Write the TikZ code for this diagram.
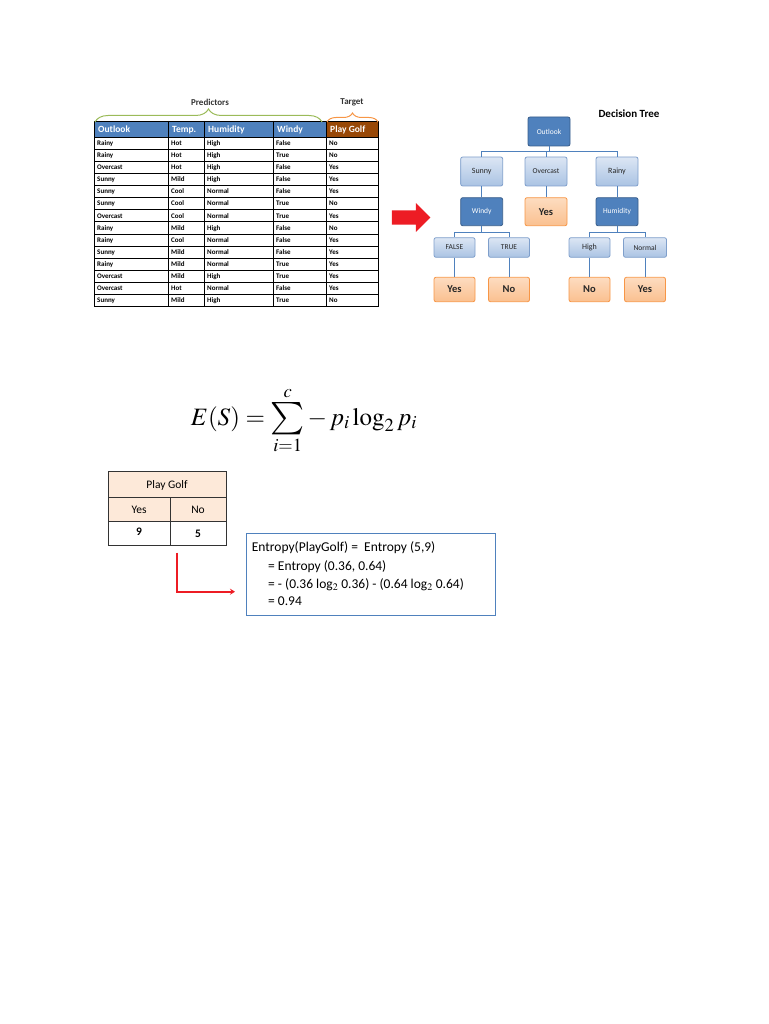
\documentclass[tikz,border=0pt]{standalone}
\usepackage{mathptmx}
\usepackage{exscale}
\usepackage[no-math]{fontspec}
\setmainfont{Carlito}
\usetikzlibrary{shapes.arrows,decorations.pathreplacing,arrows.meta}

\DeclareSymbolFont{cmbig}{OMX}{cmex}{m}{n}
\DeclareMathSymbol{\golfsum}{\mathop}{cmbig}{"50}

\definecolor{hdrblue}{HTML}{4F81BD}
\definecolor{hdrbrown}{HTML}{984807}
\definecolor{darkedge}{HTML}{385D8A}
\definecolor{lightedge}{HTML}{7F9FCB}
\definecolor{lighttop}{HTML}{DCE6F4}
\definecolor{lightbot}{HTML}{AAC3E3}
\definecolor{orangeedge}{HTML}{F79646}
\definecolor{orangetop}{HTML}{FDDCC0}
\definecolor{orangebot}{HTML}{FAC090}
\definecolor{bracegreen}{HTML}{9BBB59}
\definecolor{peach}{HTML}{FDE9D9}
\definecolor{arrowred}{HTML}{ED1C24}

\tikzset{
  cell/.style={anchor=base west, inner sep=0pt, font=\fontsize{7}{8}\selectfont\bfseries},
  headtxt/.style={anchor=base west, inner sep=0pt, text=white, font=\fontsize{9.5}{11}\selectfont\bfseries},
  darkbox/.style={draw=darkedge, fill=hdrblue, rounded corners=2pt, line width=0.8pt,
    minimum width=42pt, text=white, font=\fontsize{7.5}{9}\selectfont},
  lightbox/.style={draw=lightedge, top color=lighttop, bottom color=lightbot, rounded corners=2pt,
    line width=0.8pt, minimum width=42pt, text=black!85, font=\fontsize{8}{9}\selectfont},
  leafbox/.style={draw=orangeedge, top color=orangetop, bottom color=orangebot, rounded corners=2pt,
    line width=0.8pt, minimum width=41pt, minimum height=24.4pt, text=black!85,
    font=\fontsize{10.5}{12}\selectfont\bfseries},
  treeline/.style={draw=hdrblue, line width=0.8pt},
  entline/.style={anchor=base west, inner sep=0pt, font=\fontsize{13.5}{15}\selectfont},
  pgtxt/.style={font=\fontsize{11.5}{13}\selectfont}
}

\begin{document}
\begin{tikzpicture}[x=1pt,y=-1pt]

\useasboundingbox (0,0) rectangle (768,1024);

% Parameters
\def\rowh{12.12}      % height of one data row
\def\tabtop{137}      % lower edge of the header row

% Header of the data table
\fill[hdrblue] (94,121) rectangle (326,\tabtop);
\fill[hdrbrown] (326,121) rectangle (378,\tabtop);
\foreach \txt/\xx [count=\c] in {Outlook/98, Temp./172, Humidity/208, Windy/277, Play Golf/330} {
    \node[headtxt] (h\c) at (\xx,132.5) {\txt};
}

% Data rows
\foreach \o/\t/\h/\w/\p [count=\r] in {
    Rainy/Hot/High/False/No, Rainy/Hot/High/True/No, Overcast/Hot/High/False/Yes,
    Sunny/Mild/High/False/Yes, Sunny/Cool/Normal/False/Yes, Sunny/Cool/Normal/True/No,
    Overcast/Cool/Normal/True/Yes, Rainy/Mild/High/False/No, Rainy/Cool/Normal/False/Yes,
    Sunny/Mild/Normal/False/Yes, Rainy/Mild/Normal/True/Yes, Overcast/Mild/High/True/Yes,
    Overcast/Hot/Normal/False/Yes, Sunny/Mild/High/True/No} {
    \pgfmathsetmacro\yy{\tabtop+(\r-0.5)*\rowh+2.3}
    \node[cell] (r\r-1) at (97,\yy) {\o};
    \node[cell] (r\r-2) at (171,\yy) {\t};
    \node[cell] (r\r-3) at (207,\yy) {\h};
    \node[cell] (r\r-4) at (276,\yy) {\w};
    \node[cell] (r\r-5) at (329,\yy) {\p};
}

% Grid of the data table
\foreach \r in {0,...,14} {
    \draw[line width=0.7pt] (94,\tabtop+\r*\rowh) -- (378,\tabtop+\r*\rowh);
}
\draw[line width=0.7pt] (94,121) -- (378,121);
\foreach \xx in {94,168,204,273,326,378} {
    \draw[line width=0.7pt] (\xx,121) -- (\xx,\tabtop+14*\rowh);
}

% Braces over the table
\draw[bracegreen, line width=1pt, decorate, decoration={brace, amplitude=13pt}]
    (95,122) -- (322,122);
\draw[orangeedge, line width=1pt, decorate, decoration={brace, amplitude=9pt}]
    (327,122) -- (378,122);
\node[font=\fontsize{9}{10}\selectfont\bfseries, text=black!80] (predictors) at (210,102) {Predictors};
\node[font=\fontsize{9}{10}\selectfont\bfseries, text=black!80] (target) at (352,102) {Target};

% Arrow from the table to the tree
\node[single arrow, fill=arrowred, draw=none, inner sep=7pt, minimum height=38.4pt,
      minimum width=28.4pt, single arrow head extend=7.2pt] (bigarrow) at (407.5,217.5) {};

% Decision tree
\node[font=\fontsize{11}{13}\selectfont\bfseries] (title) at (629,114) {Decision Tree};

\node[darkbox, minimum height=29pt] (outlook) at (549,131.5) {Outlook};

\node[lightbox, minimum height=29pt] (sunny) at (481.7,171.5) {Sunny};
\node[lightbox, minimum height=29pt, font=\fontsize{7.5}{9}\selectfont] (overcast) at (546,171.5) {Overcast};
\node[lightbox, minimum height=29pt] (rainy) at (617,171.5) {Rainy};

\node[darkbox, minimum height=28pt] (windy) at (481.7,211.7) {Windy};
\node[leafbox, minimum width=42pt, minimum height=28pt] (yes1) at (546,211.7) {Yes};
\node[darkbox, minimum height=28pt] (humidity) at (617,211.7) {Humidity};

\node[lightbox, minimum width=41pt, minimum height=19.6pt, font=\fontsize{7.5}{9}\selectfont] (false) at (454.5,247.5) {FALSE};
\node[lightbox, minimum width=41pt, minimum height=19.6pt, font=\fontsize{7.5}{9}\selectfont] (true) at (509,247.5) {TRUE};
\node[lightbox, minimum width=41pt, minimum height=19.6pt] (high) at (589.5,247.5) {High};
\node[lightbox, minimum width=43pt, minimum height=19.6pt, font=\fontsize{7.5}{9}\selectfont] (normal) at (645,247.5) {Normal};

\node[leafbox] (yes2) at (454.5,289.5) {Yes};
\node[leafbox] (no1) at (509,289.5) {No};
\node[leafbox] (no2) at (589.5,289.5) {No};
\node[leafbox] (yes3) at (645,289.5) {Yes};

% Branches
\foreach \child in {sunny,overcast,rainy} {
    \draw[treeline] (outlook.south) -- ++(0,5.5) -| (\child);
}
\foreach \child in {false,true} {
    \draw[treeline] (windy.south) -- ++(0,6) -| (\child);
}
\foreach \child in {high,normal} {
    \draw[treeline] (humidity.south) -- ++(0,6) -| (\child);
}
\draw[treeline] (sunny) -- (windy);
\draw[treeline] (overcast) -- (yes1);
\draw[treeline] (rainy) -- (humidity);
\draw[treeline] (false) -- (yes2);
\draw[treeline] (true) -- (no1);
\draw[treeline] (high) -- (no2);
\draw[treeline] (normal) -- (yes3);

% Entropy formula
\node[anchor=base, inner sep=0pt, font=\fontsize{25}{30}\selectfont] (formula) at (304,425)
    {$E(S)=\mathop{\vcenter{\hbox{\scalebox{1.3}{$\golfsum$}}}}\limits_{i=1}^{c}-\,p_i\log_2 p_i$};

% Frequency table of the target
\fill[peach] (108.3,471.7) rectangle (226,521);
\draw[black!80, line width=0.8pt] (108.3,471.7) rectangle (226,545);
\draw[black!80, line width=0.8pt] (108.3,497.7) -- (226,497.7);
\draw[black!80, line width=0.8pt] (108.3,521) -- (226,521);
\draw[black!80, line width=0.8pt] (170,497.7) -- (170,545);
\node[pgtxt] (pghead) at (167,485) {Play Golf};
\node[pgtxt] (pgyes) at (139,509.5) {Yes};
\node[pgtxt] (pgno) at (198,509.5) {No};
\node[pgtxt, font=\fontsize{11.5}{13}\selectfont\bfseries] (pgnine) at (139,531.5) {9};
\node[pgtxt, font=\fontsize{11.5}{13}\selectfont\bfseries] (pgfive) at (198,534) {5};

% Entropy calculation
\node[draw=hdrblue, line width=1.2pt, minimum width=249pt, minimum height=82pt, anchor=north west,
      inner sep=0pt] (entbox) at (246,533) {};
\node[entline] (ent1) at (251.7,551) {Entropy(PlayGolf) = \ Entropy (5,9)};
\node[entline] (ent2) at (268,570) {= Entropy (0.36, 0.64)};
\node[entline] (ent3) at (268,588) {= - (0.36 log$_2$ 0.36) - (0.64 log$_2$ 0.64)};
\node[entline] (ent4) at (268,605) {= 0.94};

\coordinate (bendstart) at (177.3,552.7);
\coordinate (bendend) at (235,591.7);
\draw[arrowred, line width=2.2pt, -{Stealth[length=5pt,width=6pt]}] (bendstart) |- (bendend);

\end{tikzpicture}
\end{document}
